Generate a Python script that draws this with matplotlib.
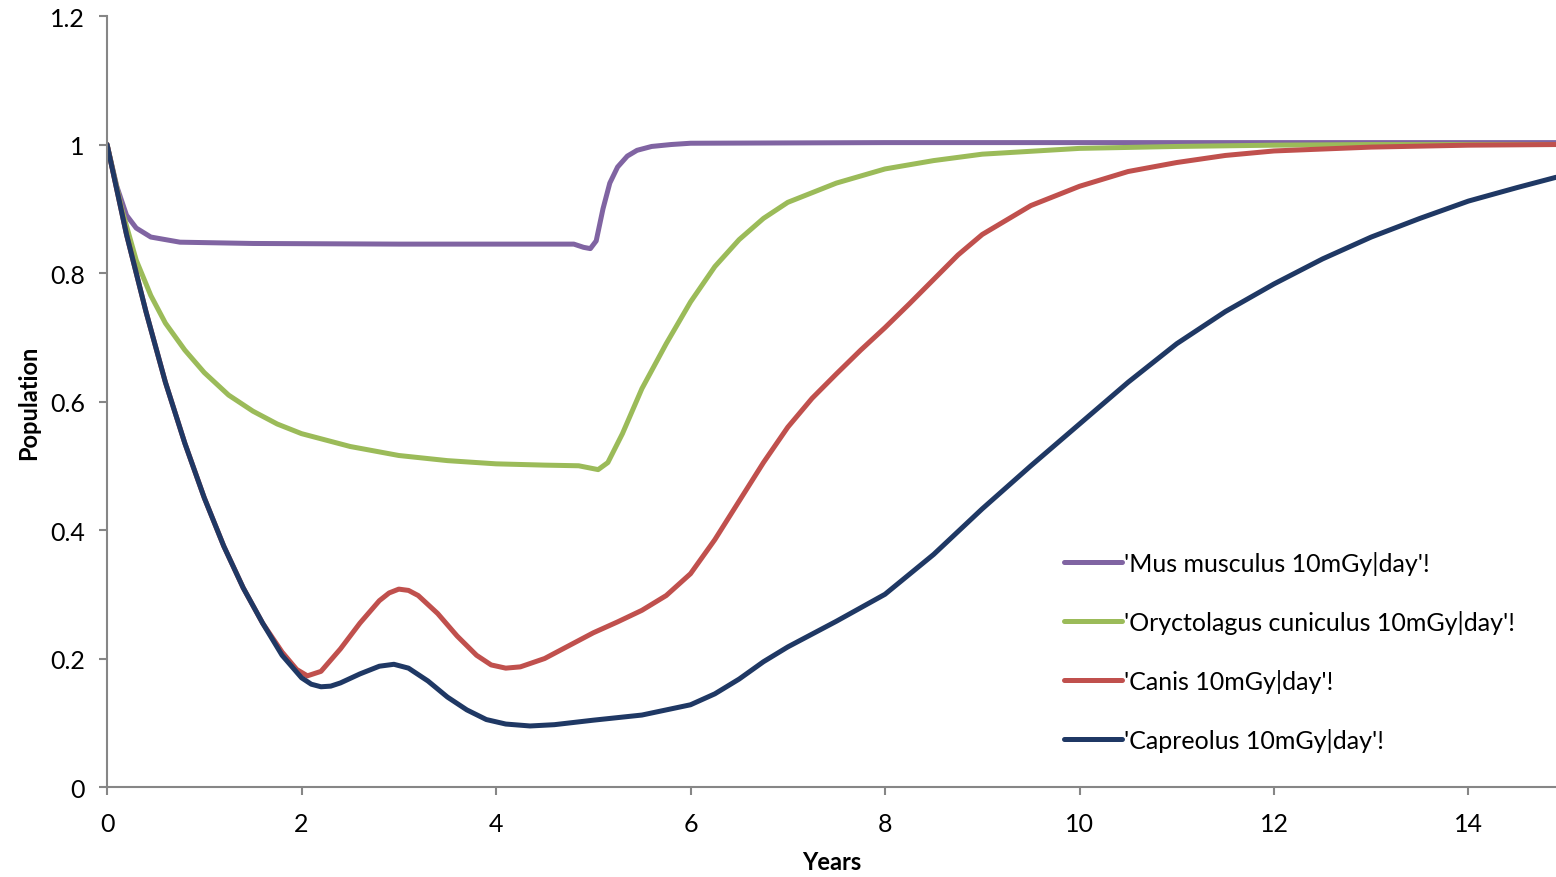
import matplotlib
matplotlib.use('Agg')
import matplotlib.pyplot as plt

plt.rcParams['font.family'] = ['Lato', 'DejaVu Sans']

# series values
mus_t = [0, 0.1, 0.2, 0.3, 0.45, 0.75, 1.5, 3.0, 4.6, 4.8, 4.9, 4.97, 5.03, 5.1, 5.17, 5.25, 5.35, 5.45, 5.6, 5.8, 6.0, 8.0, 14.9]
mus_v = [1.0, 0.935, 0.89, 0.87, 0.856, 0.848, 0.846, 0.845, 0.845, 0.845, 0.84, 0.838, 0.85, 0.9, 0.94, 0.965, 0.982, 0.991, 0.997, 1.0, 1.002, 1.003, 1.003]

ory_t = [0, 0.15, 0.3, 0.45, 0.6, 0.8, 1.0, 1.25, 1.5, 1.75, 2.0, 2.5, 3.0, 3.5, 4.0, 4.5, 4.85, 4.95, 5.05, 5.15, 5.3, 5.5, 5.75, 6.0, 6.25, 6.5, 6.75, 7.0, 7.5, 8.0, 8.5, 9.0, 10.0, 11.0, 12.0, 13.0, 14.9]
ory_v = [1.0, 0.9, 0.82, 0.765, 0.722, 0.68, 0.645, 0.61, 0.585, 0.565, 0.55, 0.53, 0.516, 0.508, 0.503, 0.501, 0.5, 0.497, 0.494, 0.505, 0.55, 0.62, 0.69, 0.755, 0.81, 0.852, 0.885, 0.91, 0.94, 0.962, 0.975, 0.985, 0.994, 0.997, 0.999, 1.0, 1.0]

can_t = [0, 0.2, 0.4, 0.6, 0.8, 1.0, 1.2, 1.4, 1.6, 1.8, 1.95, 2.06, 2.2, 2.4, 2.6, 2.8, 2.9, 3.0, 3.1, 3.2, 3.4, 3.6, 3.8, 3.95, 4.1, 4.25, 4.5, 4.75, 5.0, 5.25, 5.5, 5.75, 6.0, 6.25, 6.5, 6.75, 7.0, 7.25, 7.5, 7.75, 8.0, 8.25, 8.5, 8.75, 9.0, 9.5, 10.0, 10.5, 11.0, 11.5, 12.0, 13.0, 14.0, 14.9]
can_v = [1.0, 0.86, 0.74, 0.63, 0.535, 0.45, 0.375, 0.31, 0.255, 0.21, 0.183, 0.173, 0.18, 0.215, 0.255, 0.29, 0.302, 0.308, 0.306, 0.298, 0.27, 0.235, 0.205, 0.19, 0.185, 0.187, 0.2, 0.22, 0.24, 0.257, 0.275, 0.298, 0.332, 0.385, 0.445, 0.505, 0.56, 0.605, 0.643, 0.68, 0.715, 0.752, 0.79, 0.828, 0.86, 0.905, 0.935, 0.958, 0.972, 0.983, 0.99, 0.996, 0.999, 1.0]

cap_t = [0, 0.2, 0.4, 0.6, 0.8, 1.0, 1.2, 1.4, 1.6, 1.8, 2.0, 2.1, 2.2, 2.3, 2.4, 2.6, 2.8, 2.95, 3.1, 3.3, 3.5, 3.7, 3.9, 4.1, 4.35, 4.6, 5.0, 5.5, 6.0, 6.25, 6.5, 6.75, 7.0, 7.5, 8.0, 8.5, 9.0, 9.5, 10.0, 10.5, 11.0, 11.5, 12.0, 12.5, 13.0, 13.5, 14.0, 14.5, 14.9]
cap_v = [1.0, 0.86, 0.74, 0.63, 0.535, 0.45, 0.375, 0.31, 0.255, 0.205, 0.17, 0.16, 0.156, 0.157, 0.162, 0.176, 0.188, 0.191, 0.185, 0.165, 0.14, 0.12, 0.105, 0.098, 0.095, 0.097, 0.104, 0.112, 0.128, 0.145, 0.168, 0.195, 0.218, 0.258, 0.3, 0.362, 0.433, 0.5, 0.565, 0.63, 0.69, 0.74, 0.783, 0.822, 0.856, 0.885, 0.912, 0.933, 0.949]

labels = ["'Mus musculus 10mGy|day'!", "'Oryctolagus cuniculus 10mGy|day'!",
          "'Canis 10mGy|day'!", "'Capreolus 10mGy|day'!"]
colors = ['#8064A2', '#9BBB59', '#C0504D', '#1F3864']

fig = plt.figure(figsize=(15.56, 8.78), dpi=100)
ax = fig.add_axes([0.0688, 0.1025, 0.9312, 0.8781])

for t, v, lab, c in zip([mus_t, ory_t, can_t, cap_t], [mus_v, ory_v, can_v, cap_v], labels, colors):
    ax.plot(t, v, color=c, lw=3.6, label=lab, solid_capstyle='round', solid_joinstyle='round')

ax.set_xlim(0, 14.9)
ax.set_ylim(0, 1.2)
ax.set_xticks(range(0, 15, 2))
ax.set_yticks([0, 0.2, 0.4, 0.6, 0.8, 1.0, 1.2])
ax.set_yticklabels(['0', '0.2', '0.4', '0.6', '0.8', '1', '1.2'])

for s in ['top', 'right']:
    ax.spines[s].set_visible(False)
for s in ['left', 'bottom']:
    ax.spines[s].set_color('#868686')
    ax.spines[s].set_linewidth(1.5)
ax.tick_params(axis='both', color='#868686', width=1.5, length=6, labelsize=18)
ax.tick_params(axis='y', pad=10)
ax.tick_params(axis='x', pad=12)

ax.set_xlabel('Years', fontsize=17, fontweight='bold', labelpad=11)
ax.set_ylabel('Population', fontsize=17, fontweight='bold', labelpad=7)

ax.legend(loc='lower left', bbox_to_anchor=(0.645, 0.016), frameon=False, fontsize=18,
          handlelength=2.3, handletextpad=0.1, labelspacing=1.4)

fig.savefig('out.png', dpi=100)
